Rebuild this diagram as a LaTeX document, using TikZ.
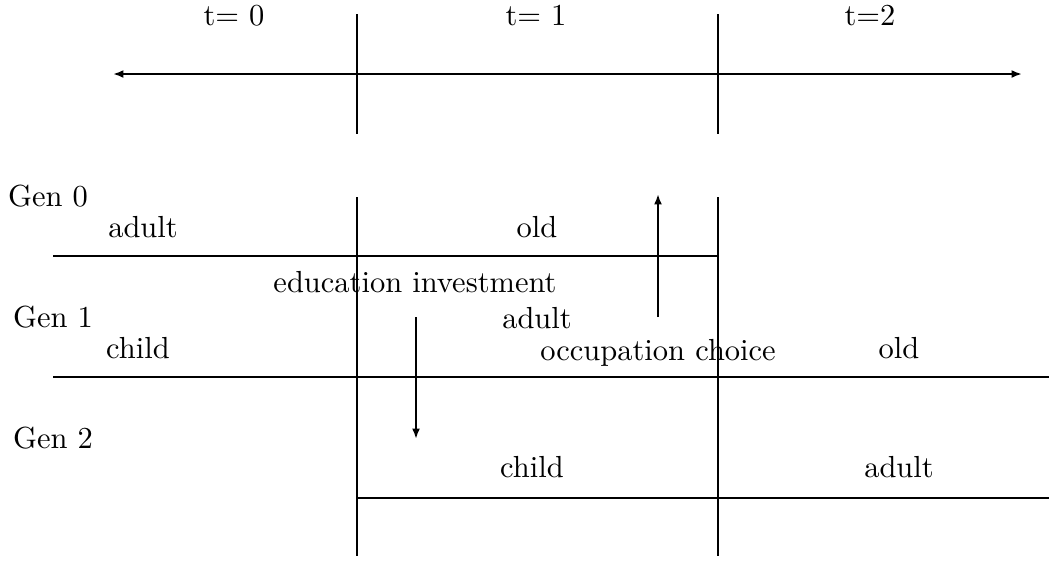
\documentclass[tikz,border=0pt]{standalone}
\usetikzlibrary{arrows.meta}
\begin{document}
\begin{tikzpicture}[x=0.328pt,y=-0.328pt,
  rule/.style={line width=0.95pt},
  arr/.style={line width=0.8pt,-{Latex[length=3.4pt,width=2.6pt]}},
  lbl/.style={anchor=base,inner sep=0pt,font=\normalsize}]
\useasboundingbox (0,0) rectangle (1049,562);
% time axis
\coordinate (axL) at (113,74);
\coordinate (axR) at (1022,74);
\draw[line width=0.9pt,{Latex[length=3.4pt,width=2.6pt]}-{Latex[length=3.4pt,width=2.6pt]}] (axL) -- (axR);
\coordinate (v1a) at (357,14); \coordinate (v1b) at (357,134);
\coordinate (v2a) at (718,14); \coordinate (v2b) at (718,134);
\draw[rule] (v1a) -- (v1b);
\draw[rule] (v2a) -- (v2b);
\node[lbl] (t0) at (234,25) {t$=$ 0};
\node[lbl] (t1) at (536,25) {t$=$ 1};
\node[lbl] (t2) at (870,25) {t$=$2};
% lower verticals
\coordinate (w1a) at (357,197); \coordinate (w1b) at (357,556);
\coordinate (w2a) at (718,197); \coordinate (w2b) at (718,556);
\draw[rule] (w1a) -- (w1b);
\draw[rule] (w2a) -- (w2b);
% generation lines
\coordinate (g0a) at (53,256); \coordinate (g0b) at (718,256);
\coordinate (g1a) at (53,377); \coordinate (g1b) at (1049,377);
\coordinate (g2a) at (357,498); \coordinate (g2b) at (1049,498);
\draw[rule] (g0a) -- (g0b);
\draw[rule] (g1a) -- (g1b);
\draw[rule] (g2a) -- (g2b);
% labels
\node[lbl] (gen0) at (48,206) {Gen 0};
\node[lbl] (gen1) at (53,327) {Gen 1};
\node[lbl] (gen2) at (53,448) {Gen 2};
\node[lbl] (g0adult) at (143,237) {adult};
\node[lbl] (g0old) at (537,237) {old};
\node[lbl] (edu) at (415,292) {education investment};
\node[lbl] (g1adult) at (537,328) {adult};
\node[lbl] (g1child) at (138,358) {child};
\node[lbl] (occ) at (658,360) {occupation choice};
\node[lbl] (g1old) at (899,358) {old};
\node[lbl] (g2child) at (532,477) {child};
\node[lbl] (g2adult) at (899,477) {adult};
% arrows
\coordinate (upA) at (658,317); \coordinate (upB) at (658,194);
\coordinate (dnA) at (416,317); \coordinate (dnB) at (416,439);
\draw[arr] (upA) -- (upB);
\draw[arr] (dnA) -- (dnB);
\end{tikzpicture}
\end{document}
